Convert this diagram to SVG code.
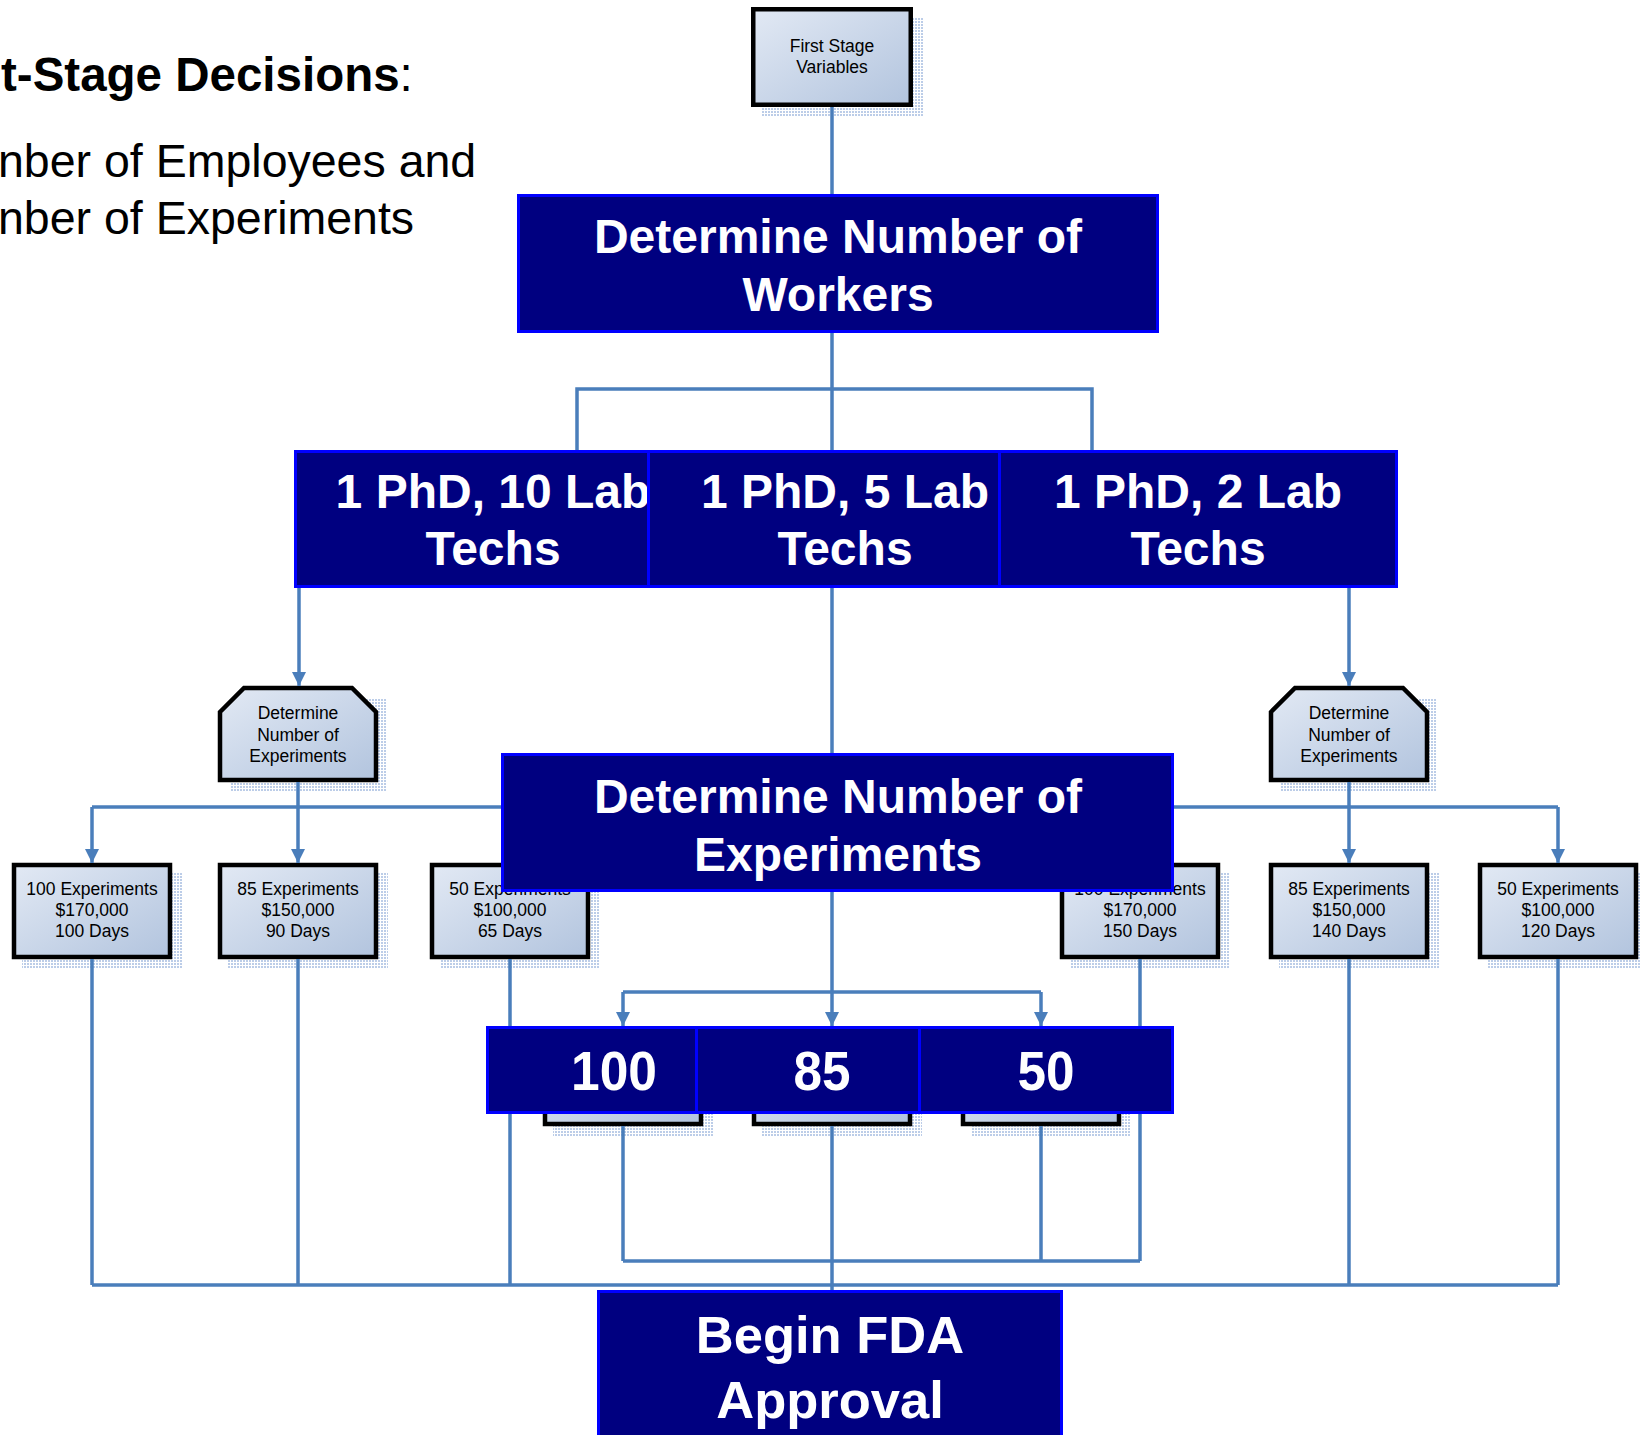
<svg xmlns="http://www.w3.org/2000/svg" width="1641" height="1435" viewBox="0 0 1641 1435">
<defs>
  <linearGradient id="paleFill" x1="0" y1="0" x2="1" y2="1">
    <stop offset="0" stop-color="#e2e9f4"/>
    <stop offset="1" stop-color="#b2c4de"/>
  </linearGradient>
  <pattern id="shadowDots" width="3" height="3" patternUnits="userSpaceOnUse">
    <rect width="3" height="3" fill="#ffffff"/>
    <rect width="2" height="2" fill="#bccde8"/>
  </pattern>
  <marker id="arrow" markerUnits="userSpaceOnUse" markerWidth="14" markerHeight="14" refX="14" refY="7" orient="auto">
    <path d="M0,0 L14,7 L0,14 Z" fill="#4a7ebb"/>
  </marker>
</defs>
<style>
  .conn { fill:none; stroke:#4a7ebb; stroke-width:3.5; }
  .arr { marker-end:url(#arrow); }
  .dark rect { fill:#000080; stroke:#0000ff; stroke-width:3; }
  .dark text { fill:#ffffff; font-family:"Liberation Sans",Arial,sans-serif; font-weight:bold; font-size:48px; text-anchor:middle; }
  .dark text.big { font-size:52.5px; }
  .dark text.num { font-size:56px; }
  .pale .box { fill:url(#paleFill); stroke:#000000; stroke-width:4.5; stroke-linejoin:miter; }
  .pale .shadow { fill:url(#shadowDots); }
  .pale text { fill:#000000; font-family:"Liberation Sans",Arial,sans-serif; font-size:17.5px; text-anchor:middle; }
  .caption { font-family:"Liberation Sans",Arial,sans-serif; fill:#000000; }
</style>

<rect width="1641" height="1435" fill="#ffffff"/>

<!-- side caption -->
<g id="caption">
  <text class="caption" x="1" y="91" font-size="47.5"><tspan font-weight="bold">t-Stage Decisions</tspan>:</text>
  <text class="caption" x="-2" y="177" font-size="46.5">nber of Employees and</text>
  <text class="caption" x="-2" y="234" font-size="46.5">nber of Experiments</text>
</g>

<!-- light option boxes (drawn beneath the connectors) -->
<g id="first-stage" class="pale">
  <rect class="shadow" x="761" y="17" width="162" height="100"/>
  <rect class="box" x="753.25" y="9.25" width="157.5" height="95.5"/>
  <text x="832" y="52">First Stage</text>
  <text x="832" y="73">Variables</text>
</g>

<g id="exp-decision-left" class="pale">
  <path class="shadow" d="M230,698 L386,698 L386,792 L230,792 Z"/>
  <path class="box" d="M220,712 L244,688 L352,688 L376,712 L376,780 L220,780 Z"/>
  <text x="298" y="719">Determine</text>
  <text x="298" y="741">Number of</text>
  <text x="298" y="762">Experiments</text>
</g>
<g id="exp-decision-right" class="pale">
  <path class="shadow" d="M1281,698 L1437,698 L1437,792 L1281,792 Z"/>
  <path class="box" d="M1271,712 L1295,688 L1403,688 L1427,712 L1427,780 L1271,780 Z"/>
  <text x="1349" y="719">Determine</text>
  <text x="1349" y="741">Number of</text>
  <text x="1349" y="762">Experiments</text>
</g>

<g id="exp-100-a" class="pale">
  <rect class="shadow" x="22" y="873" width="160" height="96"/>
  <rect class="box" x="14" y="865" width="156" height="92"/>
  <text x="92" y="895">100 Experiments</text>
  <text x="92" y="916">$170,000</text>
  <text x="92" y="937">100 Days</text>
</g>
<g id="exp-85-a" class="pale">
  <rect class="shadow" x="228" y="873" width="160" height="96"/>
  <rect class="box" x="220" y="865" width="156" height="92"/>
  <text x="298" y="895">85 Experiments</text>
  <text x="298" y="916">$150,000</text>
  <text x="298" y="937">90 Days</text>
</g>
<g id="exp-50-a" class="pale">
  <rect class="shadow" x="440" y="873" width="160" height="96"/>
  <rect class="box" x="432" y="865" width="156" height="92"/>
  <text x="510" y="895">50 Experiments</text>
  <text x="510" y="916">$100,000</text>
  <text x="510" y="937">65 Days</text>
</g>
<g id="exp-100-c" class="pale">
  <rect class="shadow" x="1070" y="873" width="160" height="96"/>
  <rect class="box" x="1062" y="865" width="156" height="92"/>
  <text x="1140" y="895">100 Experiments</text>
  <text x="1140" y="916">$170,000</text>
  <text x="1140" y="937">150 Days</text>
</g>
<g id="exp-85-c" class="pale">
  <rect class="shadow" x="1279" y="873" width="160" height="96"/>
  <rect class="box" x="1271" y="865" width="156" height="92"/>
  <text x="1349" y="895">85 Experiments</text>
  <text x="1349" y="916">$150,000</text>
  <text x="1349" y="937">140 Days</text>
</g>
<g id="exp-50-c" class="pale">
  <rect class="shadow" x="1488" y="873" width="160" height="96"/>
  <rect class="box" x="1480" y="865" width="156" height="92"/>
  <text x="1558" y="895">50 Experiments</text>
  <text x="1558" y="916">$100,000</text>
  <text x="1558" y="937">120 Days</text>
</g>

<g id="exp-100-b" class="pale">
  <rect class="shadow" x="553" y="1040" width="160" height="96"/>
  <rect class="box" x="545" y="1032" width="156" height="92"/>
</g>
<g id="exp-85-b" class="pale">
  <rect class="shadow" x="762" y="1040" width="160" height="96"/>
  <rect class="box" x="754" y="1032" width="156" height="92"/>
</g>
<g id="exp-50-b" class="pale">
  <rect class="shadow" x="971" y="1040" width="160" height="96"/>
  <rect class="box" x="963" y="1032" width="156" height="92"/>
</g>

<!-- connectors -->
<g id="connectors">
  <path class="conn" d="M832,107 V195"/>
  <path class="conn" d="M832,333 V450"/>
  <path class="conn" d="M577,450 V389 H1092 V450"/>
  <path class="conn arr" d="M299,588 V686"/>
  <path class="conn arr" d="M1349,588 V686"/>
  <path class="conn" d="M832,588 V754"/>
  <!-- left experiment fan -->
  <path class="conn arr" d="M298,782 V863"/>
  <path class="conn arr" d="M92,807 V863"/>
  <path class="conn arr" d="M510,807 V863"/>
  <path class="conn" d="M92,807 H510"/>
  <!-- right experiment fan -->
  <path class="conn arr" d="M1349,782 V863"/>
  <path class="conn arr" d="M1140,807 V863"/>
  <path class="conn arr" d="M1558,807 V863"/>
  <path class="conn" d="M1140,807 H1558"/>
  <!-- middle experiment fan -->
  <path class="conn arr" d="M832,892 V1026"/>
  <path class="conn arr" d="M623,992 V1026"/>
  <path class="conn arr" d="M1041,992 V1026"/>
  <path class="conn" d="M623,992 H1041"/>
  <!-- merge toward FDA approval -->
  <path class="conn" d="M92,959 V1285"/>
  <path class="conn" d="M298,959 V1285"/>
  <path class="conn" d="M510,959 V1285"/>
  <path class="conn" d="M1349,959 V1285"/>
  <path class="conn" d="M1558,959 V1285"/>
  <path class="conn" d="M92,1285 H1558"/>
  <path class="conn" d="M1140,959 V1261"/>
  <path class="conn" d="M623,1126 V1261"/>
  <path class="conn" d="M1041,1126 V1261"/>
  <path class="conn" d="M623,1261 H1140"/>
  <path class="conn" d="M832,1126 V1291"/>
</g>

<!-- dark decision boxes (drawn over the connectors) -->
<g id="workers" class="dark">
  <rect x="518.5" y="195.5" width="639" height="136"/>
  <text x="838" y="253">Determine Number of</text>
  <text x="838" y="311">Workers</text>
</g>

<g id="phd-10" class="dark">
  <rect x="295.5" y="451.5" width="396" height="135"/>
  <text x="493" y="508">1 PhD, 10 Lab</text>
  <text x="493" y="565">Techs</text>
</g>
<g id="phd-5" class="dark">
  <rect x="648.5" y="451.5" width="393" height="135"/>
  <text x="845" y="508">1 PhD, 5 Lab</text>
  <text x="845" y="565">Techs</text>
</g>
<g id="phd-2" class="dark">
  <rect x="999.5" y="451.5" width="397" height="135"/>
  <text x="1198" y="508">1 PhD, 2 Lab</text>
  <text x="1198" y="565">Techs</text>
</g>

<g id="experiments" class="dark">
  <rect x="502.5" y="754.5" width="670" height="136"/>
  <text x="838" y="813">Determine Number of</text>
  <text x="838" y="871">Experiments</text>
</g>

<g id="num-100" class="dark">
  <rect x="487.5" y="1027.5" width="254" height="85"/>
  <text class="num" x="614" y="1090" textLength="86" lengthAdjust="spacingAndGlyphs">100</text>
</g>
<g id="num-85" class="dark">
  <rect x="696.5" y="1027.5" width="254" height="85"/>
  <text class="num" x="822" y="1090" textLength="57" lengthAdjust="spacingAndGlyphs">85</text>
</g>
<g id="num-50" class="dark">
  <rect x="919.5" y="1027.5" width="253" height="85"/>
  <text class="num" x="1046" y="1090" textLength="57" lengthAdjust="spacingAndGlyphs">50</text>
</g>

<g id="fda" class="dark">
  <rect x="598.5" y="1291.5" width="463" height="170"/>
  <text class="big" x="830" y="1353">Begin FDA</text>
  <text class="big" x="830" y="1418">Approval</text>
</g>
</svg>
